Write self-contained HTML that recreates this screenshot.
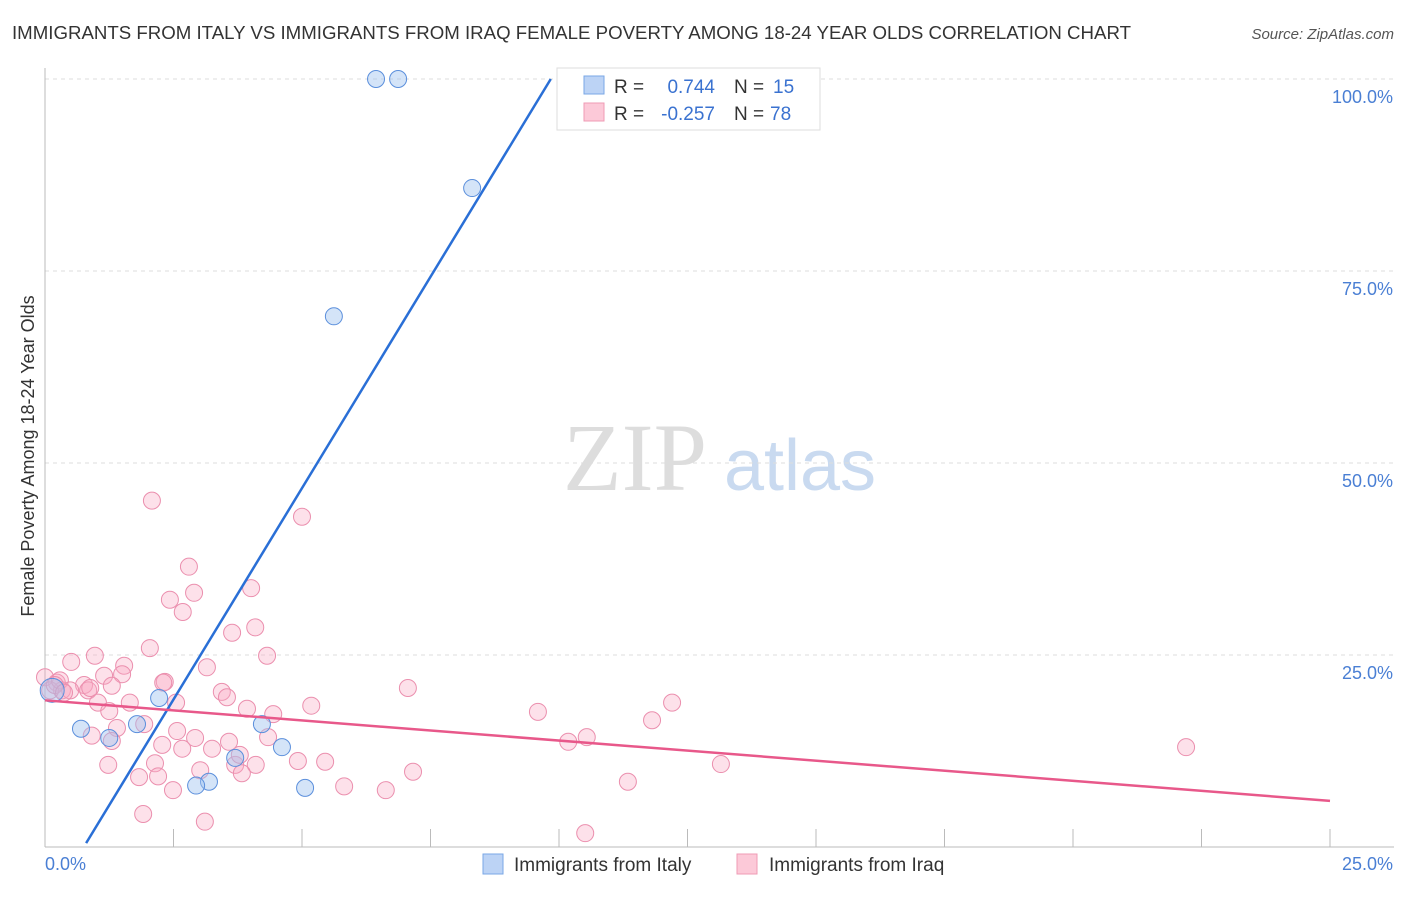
<!DOCTYPE html>
<html><head><meta charset="utf-8"><style>
body{margin:0;background:#fff;font-family:"Liberation Sans",sans-serif;}
svg text{font-family:"Liberation Sans",sans-serif;}
</style></head><body>
<svg id="chart" width="1406" height="892" xmlns="http://www.w3.org/2000/svg">
<text x="12" y="39" font-size="18" fill="#333" textLength="1119" lengthAdjust="spacingAndGlyphs">IMMIGRANTS FROM ITALY VS IMMIGRANTS FROM IRAQ FEMALE POVERTY AMONG 18-24 YEAR OLDS CORRELATION CHART</text>
<text x="1394" y="39" font-size="15" fill="#555" text-anchor="end" font-style="italic">Source: ZipAtlas.com</text>
<text transform="translate(34,456) rotate(-90)" font-size="18" fill="#333" text-anchor="middle">Female Poverty Among 18-24 Year Olds</text>
<g>
<text x="635" y="490" font-size="96" fill="#ddd" text-anchor="middle" style="font-family:'Liberation Serif',serif">ZIP</text>
<text x="800" y="490" font-size="72" fill="#c9daf0" text-anchor="middle">atlas</text>
</g>
<g id="grid"></g><g id="axes"></g><g id="marks"></g>
<g>
<rect x="557" y="68" width="263" height="62" fill="#fff" stroke="#ddd"/>
<rect x="584" y="76" width="20" height="18" fill="#bcd3f5" stroke="#7aa7e6"/>
<rect x="584" y="103" width="20" height="18" fill="#fcc9d8" stroke="#ef9bb5"/>
<text x="614" y="93" font-size="19" fill="#333">R = </text><text x="715" y="93" font-size="19" fill="#3a72d0" text-anchor="end">0.744</text>
<text x="734" y="93" font-size="19" fill="#333">N = </text><text x="773" y="93" font-size="19" fill="#3a72d0">15</text>
<text x="614" y="120" font-size="19" fill="#333">R = </text><text x="715" y="120" font-size="19" fill="#3a72d0" text-anchor="end">-0.257</text>
<text x="734" y="120" font-size="19" fill="#333">N = </text><text x="770" y="120" font-size="19" fill="#3a72d0">78</text>
</g>
<g>
<rect x="483" y="854" width="20" height="20" fill="#bcd3f5" stroke="#7aa7e6"/>
<text x="514" y="871" font-size="19" fill="#333">Immigrants from Italy</text>
<rect x="737" y="854" width="20" height="20" fill="#fcc9d8" stroke="#ef9bb5"/>
<text x="769" y="871" font-size="19" fill="#333">Immigrants from Iraq</text>
</g>
</svg>
<script>
const yTicks=[25,50,75,100];
const yTickLabels=["25.0%","50.0%","75.0%","100.0%"];
const xTicks=[0,2.5,5,7.5,10,12.5,15,17.5,20,22.5,25];
const italyX=[6.44,6.87,8.31,5.62,2.22,0.70,1.79,1.25,4.22,4.61,3.70,3.19,2.94,5.06,0.14];
const italyY=[100,100,85.8,69.1,19.4,15.4,16.0,14.2,16.0,13.0,11.6,8.5,8.0,7.7,20.4];
const iraqX=[2.08,5.00,2.80,4.01,2.90,2.43,2.68,4.09,3.64,2.04,0.97,4.32,0.51,1.54,3.15,1.50,1.15,2.33,0.76,7.06,12.20,0.84,0.23,0.33,3.44,3.54,1.65,1.03,1.25,5.18,3.93,4.44,9.59,11.81,22.20,2.55,1.93,1.40,0.91,1.30,2.57,2.28,2.67,3.25,3.58,4.34,10.54,10.18,4.10,3.70,2.14,1.23,4.92,5.45,13.15,7.16,3.02,3.83,2.20,1.83,2.49,5.82,6.63,11.34,1.91,3.11,10.51,0.00,0.10,0.29,0.49,0.19,0.37,1.30,0.88,3.79,2.92,2.30];
const iraqY=[45.1,43.0,36.5,33.7,33.1,32.2,30.6,28.6,27.9,25.9,24.9,24.9,24.1,23.6,23.4,22.5,22.3,21.5,21.1,20.7,18.8,20.4,21.4,20.4,20.2,19.5,18.8,18.8,17.7,18.4,18.0,17.3,17.6,16.5,13.0,18.8,16.0,15.5,14.5,13.8,15.1,13.3,12.8,12.8,13.7,14.3,14.3,13.7,10.7,10.7,10.9,10.7,11.2,11.1,10.8,9.8,10.0,9.6,9.2,9.1,7.4,7.9,7.4,8.5,4.3,3.3,1.8,22.1,20.4,21.7,20.4,21.1,20.1,21.0,20.7,12.0,14.2,21.4];
const italyLine=[[0.80,0.5],[9.84,100]];
const iraqLine=[[0,19.1],[25,6.0]];
const NS="http://www.w3.org/2000/svg";
const X=v=>45+v*1285/25, Y=v=>847-v*7.68;
function mk(t,a,p){const e=document.createElementNS(NS,t);for(const k in a)e.setAttribute(k,a[k]);p.appendChild(e);return e;}
const grid=document.getElementById('grid'),axes=document.getElementById('axes'),marks=document.getElementById('marks');
yTicks.forEach((t,i)=>{
 const l=mk('line',{x1:45,x2:1394,y1:Y(t),y2:Y(t),stroke:'#ddd','stroke-dasharray':'4,4'},grid);
 
 
 const tx=mk('text',{x:1393,y:Y(t)+24,'font-size':18,fill:'#4a7fd4','text-anchor':'end'},axes);
 tx.textContent=yTickLabels[i];
 
 
});
const ax=mk('line',{x1:45,x2:1394,y1:847,y2:847,stroke:'#bbb'},axes);


const ay=mk('line',{x1:45,x2:45,y1:68,y2:847,stroke:'#bbb'},axes);


xTicks.forEach(t=>{
 const l=mk('line',{x1:X(t),x2:X(t),y1:829,y2:847,stroke:'#bbb'},axes);
 
 
});
const xl0=mk('text',{x:45,y:870,'font-size':18,fill:'#4a7fd4'},axes);xl0.textContent='0.0%';


const xl1=mk('text',{x:1393,y:870,'font-size':18,fill:'#4a7fd4','text-anchor':'end'},axes);xl1.textContent='25.0%';


iraqX.forEach((v,i)=>{
 const c=mk('circle',{cx:X(v),cy:Y(iraqY[i]),r:8.5,fill:'rgba(248,170,195,0.35)',stroke:'#eb8fae','stroke-width':1},marks);
 
 
});
italyX.forEach((v,i)=>{
 const c=mk('circle',{cx:X(v),cy:Y(italyY[i]),r:i==14?12:8.5,fill:'rgba(160,195,240,0.45)',stroke:'#5b8fdc','stroke-width':1},marks);
 
 
});
const l1=mk('line',{x1:X(italyLine[0][0]),y1:Y(italyLine[0][1]),x2:X(italyLine[1][0]),y2:Y(italyLine[1][1]),stroke:'#2a6fd6','stroke-width':2.5},marks);


const l2=mk('line',{x1:X(iraqLine[0][0]),y1:Y(iraqLine[0][1]),x2:X(iraqLine[1][0]),y2:Y(iraqLine[1][1]),stroke:'#e8588a','stroke-width':2.5},marks);


</script>
</body></html>
